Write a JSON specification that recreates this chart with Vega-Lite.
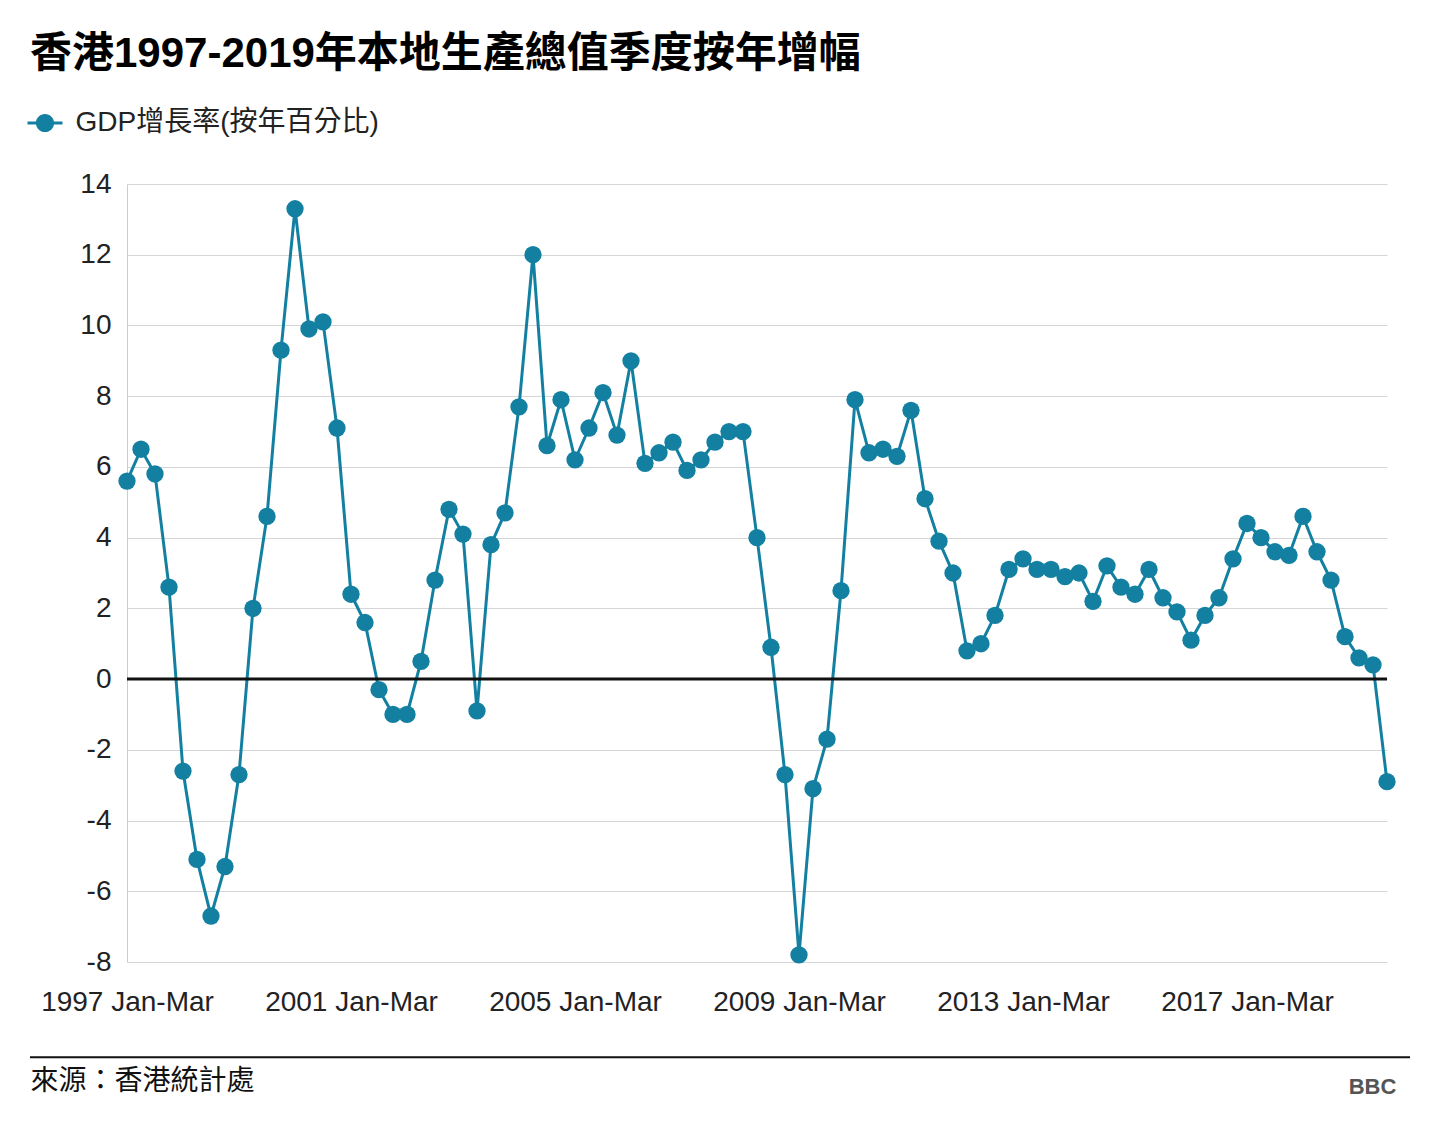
{
  "$schema": "https://vega.github.io/schema/vega-lite/v6.json",
  "width": 1260,
  "height": 778,
  "autosize": {"type": "none"},
  "padding": {"left": 127, "top": 184, "right": 53, "bottom": 173},
  "background": "white",
  "title": {
    "text": "香港1997-2019年本地生產總值季度按年增幅",
    "anchor": "start",
    "frame": "group",
    "dx": -97,
    "offset": 30,
    "fontSize": 42,
    "fontWeight": "bold",
    "font": "Liberation Sans, Noto Sans CJK TC",
    "color": "#000000"
  },
  "config": {
    "view": {"stroke": null},
    "font": "Liberation Sans, Noto Sans CJK TC",
    "axisY": {
      "domain": true,
      "domainColor": "#cccccc",
      "domainWidth": 1,
      "grid": true,
      "gridColor": "#d6d6d6",
      "gridWidth": 1,
      "ticks": false,
      "labelFontSize": 28,
      "labelColor": "#222222",
      "labelPadding": 16,
      "titleAngle": 0,
      "titleX": 1245,
      "titleY": 902,
      "titleFontSize": 22,
      "titleFontWeight": "bold",
      "titleColor": "#555555",
      "titleAlign": "center",
      "titleBaseline": "middle"
    },
    "axisX": {
      "domain": false,
      "grid": false,
      "ticks": false,
      "labelFontSize": 28,
      "labelColor": "#222222",
      "labelPadding": 26,
      "labelFlush": false,
      "labelOverlap": false,
      "titleX": -97,
      "titleY": 119,
      "titleAlign": "left",
      "titleAnchor": "start",
      "titleBaseline": "middle",
      "titleFontSize": 28,
      "titleFontWeight": "normal",
      "titleColor": "#111111"
    }
  },
  "datasets": {
    "gdp": [
      {"t": 1997.0, "g": 5.6}, {"t": 1997.25, "g": 6.5}, {"t": 1997.5, "g": 5.8}, {"t": 1997.75, "g": 2.6},
      {"t": 1998.0, "g": -2.6}, {"t": 1998.25, "g": -5.1}, {"t": 1998.5, "g": -6.7}, {"t": 1998.75, "g": -5.3},
      {"t": 1999.0, "g": -2.7}, {"t": 1999.25, "g": 2.0}, {"t": 1999.5, "g": 4.6}, {"t": 1999.75, "g": 9.3},
      {"t": 2000.0, "g": 13.3}, {"t": 2000.25, "g": 9.9}, {"t": 2000.5, "g": 10.1}, {"t": 2000.75, "g": 7.1},
      {"t": 2001.0, "g": 2.4}, {"t": 2001.25, "g": 1.6}, {"t": 2001.5, "g": -0.3}, {"t": 2001.75, "g": -1.0},
      {"t": 2002.0, "g": -1.0}, {"t": 2002.25, "g": 0.5}, {"t": 2002.5, "g": 2.8}, {"t": 2002.75, "g": 4.8},
      {"t": 2003.0, "g": 4.1}, {"t": 2003.25, "g": -0.9}, {"t": 2003.5, "g": 3.8}, {"t": 2003.75, "g": 4.7},
      {"t": 2004.0, "g": 7.7}, {"t": 2004.25, "g": 12.0}, {"t": 2004.5, "g": 6.6}, {"t": 2004.75, "g": 7.9},
      {"t": 2005.0, "g": 6.2}, {"t": 2005.25, "g": 7.1}, {"t": 2005.5, "g": 8.1}, {"t": 2005.75, "g": 6.9},
      {"t": 2006.0, "g": 9.0}, {"t": 2006.25, "g": 6.1}, {"t": 2006.5, "g": 6.4}, {"t": 2006.75, "g": 6.7},
      {"t": 2007.0, "g": 5.9}, {"t": 2007.25, "g": 6.2}, {"t": 2007.5, "g": 6.7}, {"t": 2007.75, "g": 7.0},
      {"t": 2008.0, "g": 7.0}, {"t": 2008.25, "g": 4.0}, {"t": 2008.5, "g": 0.9}, {"t": 2008.75, "g": -2.7},
      {"t": 2009.0, "g": -7.8}, {"t": 2009.25, "g": -3.1}, {"t": 2009.5, "g": -1.7}, {"t": 2009.75, "g": 2.5},
      {"t": 2010.0, "g": 7.9}, {"t": 2010.25, "g": 6.4}, {"t": 2010.5, "g": 6.5}, {"t": 2010.75, "g": 6.3},
      {"t": 2011.0, "g": 7.6}, {"t": 2011.25, "g": 5.1}, {"t": 2011.5, "g": 3.9}, {"t": 2011.75, "g": 3.0},
      {"t": 2012.0, "g": 0.8}, {"t": 2012.25, "g": 1.0}, {"t": 2012.5, "g": 1.8}, {"t": 2012.75, "g": 3.1},
      {"t": 2013.0, "g": 3.4}, {"t": 2013.25, "g": 3.1}, {"t": 2013.5, "g": 3.1}, {"t": 2013.75, "g": 2.9},
      {"t": 2014.0, "g": 3.0}, {"t": 2014.25, "g": 2.2}, {"t": 2014.5, "g": 3.2}, {"t": 2014.75, "g": 2.6},
      {"t": 2015.0, "g": 2.4}, {"t": 2015.25, "g": 3.1}, {"t": 2015.5, "g": 2.3}, {"t": 2015.75, "g": 1.9},
      {"t": 2016.0, "g": 1.1}, {"t": 2016.25, "g": 1.8}, {"t": 2016.5, "g": 2.3}, {"t": 2016.75, "g": 3.4},
      {"t": 2017.0, "g": 4.4}, {"t": 2017.25, "g": 4.0}, {"t": 2017.5, "g": 3.6}, {"t": 2017.75, "g": 3.5},
      {"t": 2018.0, "g": 4.6}, {"t": 2018.25, "g": 3.6}, {"t": 2018.5, "g": 2.8}, {"t": 2018.75, "g": 1.2},
      {"t": 2019.0, "g": 0.6}, {"t": 2019.25, "g": 0.4}, {"t": 2019.5, "g": -2.9}
    ],
    "zero": [{"level": 0}],
    "footer": [{"from": 1995.268, "to": 2019.911, "level": -10.69}]
  },
  "layer": [
    {
      "data": {"name": "gdp"},
      "mark": {"type": "line", "color": "#1380a1", "strokeWidth": 3},
      "encoding": {
        "x": {
          "field": "t",
          "type": "quantitative",
          "title": "來源：香港統計處",
          "scale": {"domain": [1997, 2019.5], "nice": false, "zero": false},
          "axis": {"values": [1997, 2001, 2005, 2009, 2013, 2017], "labelExpr": "datum.value + ' Jan-Mar'"}
        },
        "y": {
          "field": "g",
          "type": "quantitative",
          "title": "BBC",
          "scale": {"domain": [-8, 14], "nice": false, "zero": false},
          "axis": {"values": [-8, -6, -4, -2, 0, 2, 4, 6, 8, 10, 12, 14], "labelExpr": "'' + datum.value"}
        }
      }
    },
    {
      "data": {"name": "zero"},
      "mark": {"type": "rule", "color": "#111111", "strokeWidth": 3},
      "encoding": {
        "y": {"field": "level", "type": "quantitative"}
      }
    },
    {
      "data": {"name": "gdp"},
      "mark": {"type": "point", "filled": true, "opacity": 1, "size": 300},
      "encoding": {
        "x": {"field": "t", "type": "quantitative"},
        "y": {"field": "g", "type": "quantitative"},
        "color": {
          "datum": "GDP增長率(按年百分比)",
          "scale": {"range": ["#1380a1"]},
          "legend": {
            "title": null,
            "orient": "none",
            "legendX": -99.5,
            "legendY": -78.5,
            "symbolType": "M-1,-0.085L1,-0.085L1,0.085L-1,0.085Z M0.52,0A0.52,0.52 0 1,1 -0.52,0A0.52,0.52 0 1,1 0.52,0Z",
            "symbolSize": 1225,
            "symbolStrokeWidth": 0,
            "labelFontSize": 28,
            "labelColor": "#222222",
            "labelOffset": 13,
            "labelLimit": 0
          }
        }
      }
    },
    {
      "data": {"name": "footer"},
      "mark": {"type": "rule", "color": "#111111", "strokeWidth": 2},
      "encoding": {
        "x": {"field": "from", "type": "quantitative"},
        "x2": {"field": "to"},
        "y": {"field": "level", "type": "quantitative"}
      }
    }
  ]
}
